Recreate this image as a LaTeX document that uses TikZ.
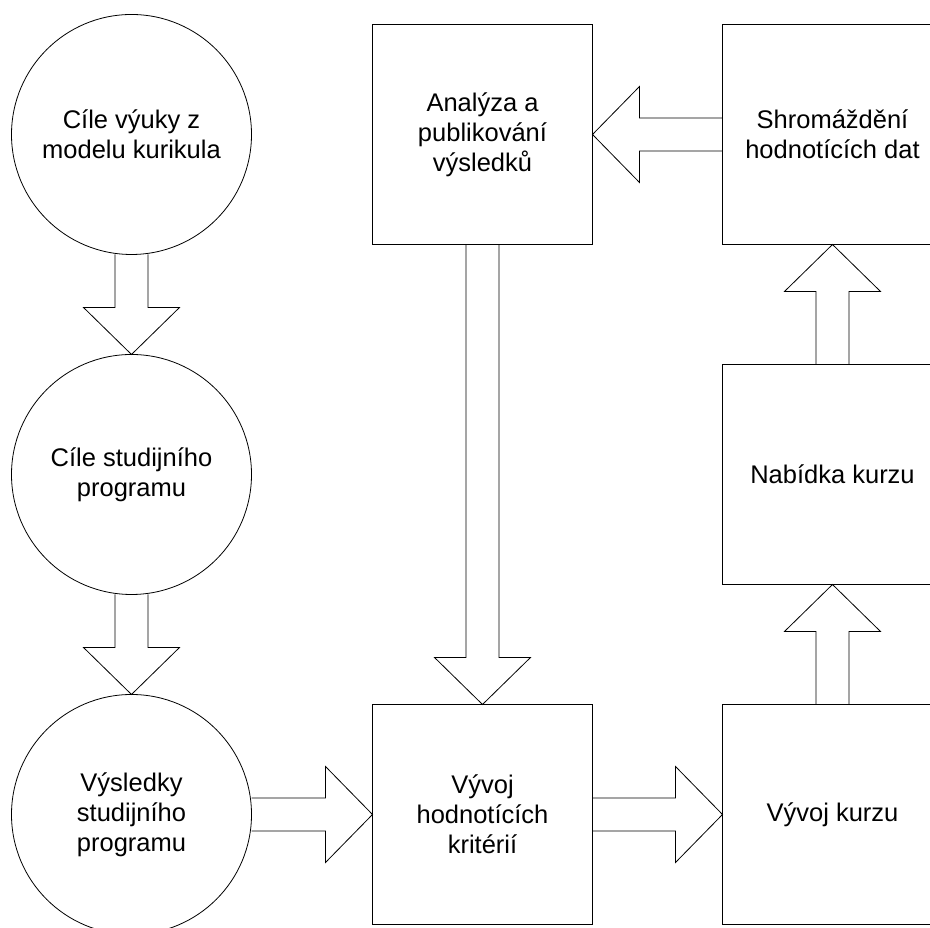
\documentclass[tikz,border=0pt]{standalone}
\usepackage{fontspec}
\setmainfont{Liberation Sans}
\usetikzlibrary{positioning,calc}
\tikzset{
  goal/.style={circle,draw,line width=0.8pt,minimum size=240pt,inner sep=0pt,outer sep=0pt,align=center},
  stage/.style={rectangle,draw,line width=0.8pt,minimum size=220pt,inner sep=0pt,outer sep=0pt,align=center},
  flow/.style={draw,line width=0.8pt,line join=miter}
}
% hollow block arrow from #1 to #2
\newcommand*{\blockarrow}[2]{%
  \coordinate (head) at ($(#2)!47pt!(#1)$);
  \draw[flow] ($(#1)!16.5pt!90:(#2)$) -- ($(head)!16.5pt!90:(#2)$) -- ($(head)!48pt!90:(#2)$)
    -- (#2) -- ($(head)!48pt!-90:(#2)$) -- ($(head)!16.5pt!-90:(#2)$) -- ($(#1)!16.5pt!-90:(#2)$);
}

\begin{document}
\begin{tikzpicture}[x=1pt,y=1pt,font=\fontsize{25.5}{30}\selectfont]
\useasboundingbox (0,0) rectangle (930,928);
\clip (0,0) rectangle (930,928);
% Goals on the left
\node[goal] (c1) at (131.5,793.5) {Cíle výuky z\\modelu kurikula};
\node[goal,below=100pt of c1] (c2) {Cíle studijního\\programu};
\node[goal,below=100pt of c2] (c3) {Výsledky\\studijního\\programu};

% Stages
\node[stage,right=121pt of c3] (crit) {Vývoj\\hodnotících\\kritérií};
\node[stage,right=130pt of crit] (course) {Vývoj kurzu};
\node[stage,above=120pt of course] (offer) {Nabídka kurzu};
\node[stage,above=120pt of offer] (collect) {Shromáždění\\hodnotících dat};
\node[stage,left=130pt of collect] (analysis) {Analýza a\\publikování\\výsledků};

% Block arrows
\blockarrow{c1.south}{c2.north}
\blockarrow{c2.south}{c3.north}
\blockarrow{c3.east}{crit.west}
\blockarrow{crit.east}{course.west}
\blockarrow{course.north}{offer.south}
\blockarrow{offer.north}{collect.south}
\blockarrow{collect.west}{analysis.east}
\blockarrow{analysis.south}{crit.north}
\end{tikzpicture}
\end{document}
